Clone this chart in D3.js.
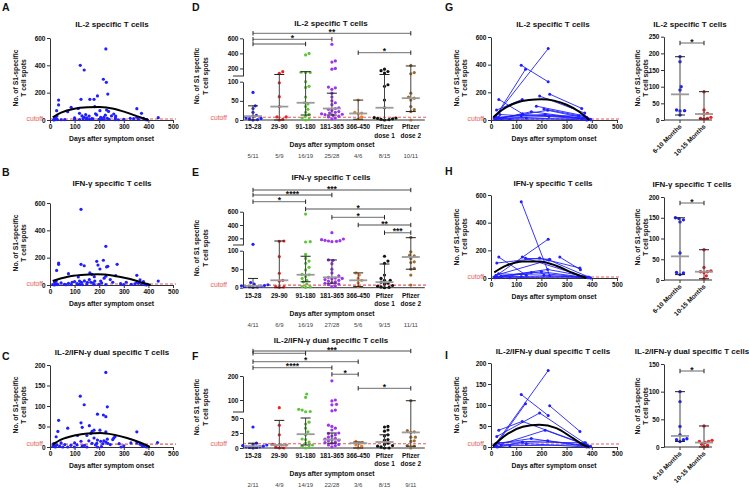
<!DOCTYPE html>
<html><head><meta charset="utf-8">
<script src="https://cdn.jsdelivr.net/npm/d3@7"></script>
<style>body{margin:0;background:#fff}svg{display:block}</style>
</head><body><script>
// ---------------- DATA ----------------
const CUTOFF = 7;
const dayTicks = [0,100,200,300,400,500];
const ticks600 = [0,200,400,600];
const ticks200 = [0,50,100,150,200];

// A/B/C scatter (day, value)
const aDays=[227,123,139,217,229,235,193,179,162,126,35,35,27,86,115,182,203,230,238,353,372,120,259,267,266,72,139,159,190,206,219,233,326,353,380,440,18,15,22,25,30,45,60,100,120,135,148,160,220,240,265,278,300,20,24,28,130,145,170,185,210,250,340,360,390,395,17,100,150,200,225,175];
const aVals=[520,400,366,298,276,190,176,151,151,151,146,110,68,93,85,98,68,73,63,83,49,49,44,29,17,61,20,29,37,20,20,12,12,20,12,17,5,2,8,25,3,2,3,5,3,10,4,4,3,5,3,2,4,12,4,30,30,40,10,45,8,30,10,5,3,1,0,15,15,5,35,8];
const bDays=[126,227,217,190,273,126,139,35,35,27,235,230,195,203,75,162,170,115,180,267,353,227,366,120,128,152,166,182,206,310,353,360,440,19,22,12,32,59,75,86,120,131,179,199,227,287,372,392,25,45,100,140,150,160,210,245,330,380,395,18,28,65,110,175,220,255,300,345,385,90];
const bVals=[554,283,181,173,151,151,141,161,151,107,137,132,146,117,83,88,78,59,61,68,71,64,37,29,20,20,20,29,29,20,20,12,29,20,5,3,3,5,12,3,5,3,3,5,3,10,10,0,30,15,25,30,8,40,15,40,5,25,5,0,8,2,10,15,50,20,3,8,3,20];
const cDays=[227,123,139,233,193,217,227,35,126,131,72,32,353,25,160,179,203,227,171,166,112,259,264,233,219,206,193,179,126,158,171,190,227,235,281,329,353,366,373,437,12,19,22,39,52,72,99,131,150,193,209,289,393,15,28,60,85,140,185,245,300,380,395,18,45,100,150,215,255,110];
const cVals=[182,124,103,98,80,78,74,65,59,48,46,38,37,25,52,41,41,37,38,33,28,22,25,19,15,14,17,22,14,15,9,9,12,9,8,10,10,7,4,11,2,2,0,2,0,0,0,2,0,0,1,0,0,8,5,6,4,4,5,6,3,2,1,3,10,10,28,8,18,5];
const fitADays=[11,45,99,152,203,259,313,366,400], fitAVals=[20,54,83,93,95,83,54,20,0];
const fitBDays=[11,72,126,193,259,326,380,409],   fitBVals=[29,61,73,78,68,44,15,0];
const fitCDays=[11,45,99,152,206,259,313,366,406], fitCVals=[6,18,28,33,34,30,22,11,0];

// D/E/F grouped
const catLabels=[["15-28"],["29-90"],["91-180"],["181-365"],["366-450"],["Pfizer","dose 1"],["Pfizer","dose 2"]];
const dVals=[
 [72,37,30,20,12,10,5,4,3,1,0],
 [157,136,97,61,35,8,8,2,0],
 [400,380,150,148,145,100,88,85,60,45,42,35,28,20,15,10,5,2,0],
 [520,300,285,200,190,86,84,80,70,60,50,45,40,32,30,28,25,22,20,18,16,15,14,12,10,8,5,3],
 [52,20,18,16,8,2],
 [190,170,160,140,92,88,52,32,6,5,4,3,2,1,0],
 [240,145,130,70,60,57,52,35,27,22,0]];
const dMed=[10,35,45,30,17,32,57], dLow=[0,0,13,13,2,0,22], dHigh=[37,120,157,70,52,120,233];
const dFrac=["5/11","5/9","16/19","25/28","4/6","8/15","10/11"];
const dSigFrom=[0,0,0,4], dSigTo=[6,3,2,6], dSigLab=["**","*","","*"];

const eVals=[
 [110,14,10,8,6,5,4,3,3,2,1],
 [160,155,84,39,20,18,3,2,1],
 [565,150,145,90,79,72,66,55,48,36,35,30,25,20,16,10,3,2,1],
 [285,190,180,170,165,160,155,150,75,74,65,50,40,32,28,26,25,24,22,20,18,16,14,12,10,8,5,3],
 [40,34,25,20,13,3],
 [85,72,66,34,25,20,20,15,12,10,6,4,2,1,0],
 [215,97,88,86,79,70,68,52,50,34,7]];
const eMed=[5,20,35,28,20,15,83], eLow=[0,0,16,12,3,0,50], eHigh=[25,160,85,75,40,64,210];
const eFrac=["4/11","6/9","16/19","27/28","5/6","9/15","11/11"];
const eSigFrom=[0,0,0,2,3,4,5], eSigTo=[6,3,2,6,5,6,6], eSigLab=["***","****","*","*","*","**","***"];

const fVals=[
 [35,8,6,5,4,3,2,2,1,1,0],
 [68,38,22,6,5,5,2,0,0],
 [125,111,61,58,52,51,43,40,33,27,22,15,14,10,8,5,3,1,0],
 [180,100,96,82,80,58,55,38,36,33,30,25,24,22,20,18,16,15,14,13,12,10,9,8,6,5,4,2],
 [11,9,8,5,3,0],
 [36,35,30,28,22,20,14,13,8,6,4,3,2,0,0],
 [97,29,27,26,18,18,12,11,4,3,0]];
const fMed=[3,5,23,14,8,10,26], fLow=[0,0,5,8,0,0,3], fHigh=[8,46,50,25,10,22,97];
const fFrac=["2/11","4/9","14/19","22/28","3/6","8/15","9/11"];
const fSigFrom=[0,0,0,0,3,4], fSigTo=[6,2,4,3,4,6], fSigLab=["***","","*","****","*","*"];

// G/H/I longitudinal [day,value] per patient
const gTraj=[[[13,19],[227,516]],[[20,30],[137,367]],[[120,396],[227,276]],[[31,149],[125,45]],[[22,72],[124,149]],[[233,187],[360,84]],[[193,173],[372,50]],[[180,100],[370,30]],[[210,80],[380,20]],[[15,8],[225,70],[385,10]],[[18,5],[160,60],[390,5]],[[25,15],[125,40],[370,15]],[[30,20],[215,40],[395,2]],[[40,10],[140,15],[380,0]],[[16,3],[75,5],[360,8]],[[20,12],[230,25],[395,5]],[[35,40],[120,30],[350,30]]];
const hTraj=[[[120,552],[233,17]],[[13,7],[227,281]],[[31,151],[140,20]],[[23,108],[193,144],[353,72]],[[124,151],[380,5]],[[137,142],[233,135]],[[273,151],[355,60]],[[20,20],[230,130],[390,5]],[[15,5],[225,62],[385,8]],[[18,10],[160,40],[380,3]],[[30,30],[210,20],[395,0]],[[25,3],[75,2],[370,10]],[[40,12],[120,10],[360,5]],[[16,2],[200,45],[385,2]]];
const iTraj=[[[13,3],[227,182]],[[120,125],[227,75]],[[20,5],[137,103]],[[233,98],[353,37]],[[23,25],[193,81],[370,10]],[[31,40],[124,61],[380,5]],[[15,2],[215,40],[385,3]],[[18,8],[160,20],[390,0]],[[25,0],[125,12],[375,10]],[[30,10],[225,15],[395,2]],[[16,1],[75,3],[360,5]],[[40,5],[140,8],[380,0]]];
const fitGDays=[9,50,100,150,200,250,300,350,390], fitGVals=[20,80,125,145,150,140,110,60,0];
const fitHDays=[13,60,126,192,259,325,378], fitHVals=[41,89,120,120,89,36,0];
const fitIDays=[7,60,126,192,259,325,378,390], fitIVals=[2,29,48,53,45,21,2,0];

// right small panels
const monthCats=["6-10 Months","10-15 Months"];
const gR=[[190,175,100,90,30,28,27,15],[85,30,20,18,8,5,5,3]], gRMed=[77,18], gRLow=[15,3], gRHigh=[190,85];
const hR=[[150,148,145,140,65,18,17,13],[73,30,22,20,20,18,10,3]], hRMed=[57,20], hRLow=[13,3], hRHigh=[150,73];
const iR=[[100,82,37,22,15,13,13,10],[38,12,10,10,8,5,3,0]], iRMed=[20,8], iRLow=[10,0], iRHigh=[100,38];

// ---------------- DRAWING ----------------
const FONT="'Liberation Sans', Arial, Helvetica, sans-serif";
const BLUE="#1f1fff", RED="#ee2222", CUTC="#e35d5d";
const groupColors=[BLUE,RED,"#5fc43a","#9b34ee","#f07d22","#111111","#9c6b30"];
const svg=d3.select("body").append("svg").attr("width",749).attr("height",489).style("font-family",FONT);

function T(x,y,s,o={}){return svg.append("text").attr("x",x).attr("y",y).attr("text-anchor",o.a||"middle")
  .attr("font-size",o.s||6.8).attr("font-weight",o.w||"bold").attr("fill",o.f||"#111").text(s);}
function VT(x,y,s){return svg.append("text").attr("transform",`translate(${x},${y}) rotate(-90)`).attr("text-anchor","middle")
  .attr("dominant-baseline","central").attr("font-size",6.8).attr("font-weight","bold").attr("fill","#111").text(s);}
function styleAxis(g){g.attr("font-family",FONT);g.select(".domain").attr("stroke","#333").attr("stroke-width",1);
  g.selectAll(".tick line").attr("stroke","#333");g.selectAll(".tick text").attr("font-size",6.5).attr("font-weight","bold").attr("fill","#111");return g;}
function cutoff(x1,x2,y,lx){svg.append("line").attr("x1",x1).attr("x2",x2).attr("y1",y).attr("y2",y).attr("stroke",CUTC)
  .attr("stroke-width",1.1).attr("stroke-dasharray","3,2");T(lx,y+2.3,"cutoff",{a:"end",w:"normal",f:CUTC});}
function letter(x,y,s){T(x,y,s,{a:"start",s:10.5});}
function swarm(vals,yf,cx){const D=3.5,st=1.15;const pts=vals.map(v=>({v,y:yf(v)})).sort((a,b)=>b.y-a.y);const placed=[];
  pts.forEach(p=>{for(let k=0;k<60;k++){const off=(k%2?1:-1)*Math.ceil(k/2)*st;
    if(!placed.some(q=>(q.dx-off)**2+(q.y-p.y)**2<D*D)){p.dx=off;break;}}placed.push(p);});
  return pts.map(p=>({x:cx+p.dx,y:p.y}));}
function errBar(cx,yf,med,lo,hi,mw){
  svg.append("line").attr("x1",cx).attr("x2",cx).attr("y1",yf(lo)).attr("y2",yf(hi)).attr("stroke","#444").attr("stroke-width",1);
  [lo,hi].forEach(v=>svg.append("line").attr("x1",cx-5).attr("x2",cx+5).attr("y1",yf(v)).attr("y2",yf(v)).attr("stroke","#222").attr("stroke-width",1));
  svg.append("line").attr("x1",cx-mw).attr("x2",cx+mw).attr("y1",yf(med)).attr("y2",yf(med)).attr("stroke","#9a9a9a").attr("stroke-width",1.8);}
function sigBar(x1,x2,y,lab){
  svg.append("line").attr("x1",x1).attr("x2",x2).attr("y1",y).attr("y2",y).attr("stroke","#8a8a8a").attr("stroke-width",1.3);
  [x1,x2].forEach(x=>svg.append("line").attr("x1",x).attr("x2",x).attr("y1",y-2.2).attr("y2",y+2.2).attr("stroke","#222").attr("stroke-width",1));
  if(lab)T((x1+x2)/2,y+1.6,lab,{s:8.5});}

function timePanel(o){
  const x=d3.scaleLinear().domain([0,500]).range([o.x0,o.x1]);
  const y=d3.scaleLinear().domain([0,o.yMax]).range([o.yb,o.yt]);
  cutoff(x(0),x(500)+3,y(CUTOFF),x(0)-7);
  styleAxis(svg.append("g").attr("transform",`translate(${x(0)},0)`).call(d3.axisLeft(y).tickValues(o.yTicks).tickSize(3).tickSizeOuter(0).tickPadding(1.5)));
  styleAxis(svg.append("g").attr("transform",`translate(0,${y(0)})`).call(d3.axisBottom(x).tickValues(dayTicks).tickSize(3).tickSizeOuter(0).tickPadding(1.5)));
  T((o.x0+o.x1)/2,o.yb+20.5,"Days after symptom onset");
  T(o.tx,o.ty,o.title,{s:8});
  VT(o.x0-35,o.ylc,"No. of S1-specific");VT(o.x0-26.5,o.ylc,"T cell spots");
  letter(o.lx,o.ly,o.letter);
  if(o.traj){const ln=d3.line().x(d=>x(d[0])).y(d=>y(d[1]));
    o.traj.forEach(t=>{svg.append("path").attr("d",ln(t)).attr("fill","none").attr("stroke",BLUE).attr("stroke-width",0.9);
      t.forEach(d=>svg.append("circle").attr("cx",x(d[0])).attr("cy",y(d[1])).attr("r",1.5).attr("fill",BLUE));});}
  else{svg.append("g").selectAll("circle").data(d3.zip(o.days,o.vals)).join("circle").attr("cx",d=>x(d[0])).attr("cy",d=>y(d[1])).attr("r",1.6).attr("fill",BLUE);}
  svg.append("path").attr("d",d3.line().x(d=>x(d[0])).y(d=>y(d[1])).curve(d3.curveMonotoneX)(d3.zip(o.fitDays,o.fitVals)))
    .attr("fill","none").attr("stroke","#000").attr("stroke-width",2);
}

function catPanel(o){
  const cx=i=>253+i*26.3, ax=243;
  const yLo=d3.scaleLinear().domain([0,o.brk]).range([o.y0,o.yBrkLo]);
  const yHi=d3.scaleLinear().domain([o.brk,o.max]).range([o.yBrkHi,o.yTop]);
  const yv=v=>v<=o.brk?yLo(v):yHi(v);
  cutoff(ax,cx(6)+16,yLo(CUTOFF),ax-16);
  styleAxis(svg.append("g").attr("transform",`translate(${ax},0)`).call(d3.axisLeft(yLo).tickValues(o.loTicks).tickSize(3).tickSizeOuter(0).tickPadding(1.5)));
  styleAxis(svg.append("g").attr("transform",`translate(${ax},0)`).call(d3.axisLeft(yHi).tickValues(o.hiTicks).tickSize(3).tickSizeOuter(0).tickPadding(1.5)));
  svg.append("line").attr("x1",ax-10).attr("x2",ax).attr("y1",o.yBrkHi).attr("y2",o.yBrkHi).attr("stroke","#333");
  svg.append("line").attr("x1",ax).attr("x2",cx(6)+14).attr("y1",o.y0).attr("y2",o.y0).attr("stroke","#333");
  o.vals.forEach((g,i)=>{
    swarm(g,yv,cx(i)).forEach(p=>svg.append("circle").attr("cx",p.x).attr("cy",p.y).attr("r",1.6).attr("fill",groupColors[i]));
    errBar(cx(i),yv,o.med[i],o.low[i],o.high[i],9);
    catLabels[i].forEach((l,k)=>T(cx(i),o.catY+k*8.2,l,{s:6.5}));
    T(cx(i),o.fracY,o.frac[i],{s:6,w:"normal",f:"#444"});
  });
  o.sigFrom.forEach((a,k)=>sigBar(cx(a),cx(o.sigTo[k]),o.sigY[k],o.sigLab[k]));
  T(332,o.catY+18,"Days after symptom onset");
  T(331,o.ty,o.title,{s:8});
  VT(196,o.ylc,"No. of S1 specific");VT(205,o.ylc,"T cell spots");
  letter(192,o.ly,o.letter);
}

function smallPanel(o){
  const ax=664, cxs=[680,704];
  const y=d3.scaleLinear().domain([0,o.max]).range([o.yb,o.yt]);
  styleAxis(svg.append("g").attr("transform",`translate(${ax},0)`).call(d3.axisLeft(y).tickValues(o.ticks).tickSize(3).tickSizeOuter(0).tickPadding(1.5)));
  svg.append("line").attr("x1",ax).attr("x2",712).attr("y1",o.yb).attr("y2",o.yb).attr("stroke","#333");
  cxs.forEach((c,i)=>{
    svg.append("line").attr("x1",c).attr("x2",c).attr("y1",o.yb).attr("y2",o.yb+3).attr("stroke","#333");
    swarm(o.vals[i],y,c).forEach(p=>svg.append("circle").attr("cx",p.x).attr("cy",p.y).attr("r",1.7).attr("fill",i?RED:BLUE));
    errBar(c,y,o.med[i],o.low[i],o.high[i],9);
    svg.append("text").attr("transform",`translate(${c+2},${o.yb+7}) rotate(-45)`).attr("text-anchor","end")
      .attr("font-size",6.5).attr("font-weight","bold").attr("fill","#111").text(monthCats[i]);
  });
  sigBar(cxs[0],cxs[1],o.sigY,"*");
  T(o.tx,o.ty,o.title,{s:8});
  VT(637,o.ylc,"No. of S1-specific");VT(645,o.ylc,"T cell spots");
}

// A B C
timePanel({letter:"A",lx:2,ly:10.5,x0:50,x1:173,yt:38,yb:120,yMax:600,yTicks:ticks600,tx:112,ty:27,ylc:78,title:"IL-2 specific T cells",days:aDays,vals:aVals,fitDays:fitADays,fitVals:fitAVals});
timePanel({letter:"B",lx:2,ly:176,x0:50,x1:173,yt:203,yb:285,yMax:600,yTicks:ticks600,tx:112,ty:186,ylc:243,title:"IFN-γ specific T cells",days:bDays,vals:bVals,fitDays:fitBDays,fitVals:fitBVals});
timePanel({letter:"C",lx:2,ly:359.5,x0:50,x1:173,yt:365,yb:447,yMax:200,yTicks:ticks200,tx:112,ty:355,ylc:405,title:"IL-2/IFN-γ dual specific T cells",days:cDays,vals:cVals,fitDays:fitCDays,fitVals:fitCVals});
// D E F
catPanel({letter:"D",ly:10.5,title:"IL-2 specific T cells",ty:26,yTop:38.3,yBrkHi:76,yBrkLo:81.7,y0:120,brk:100,max:600,loTicks:[0,50,100],hiTicks:[200,400,600],
  vals:dVals,med:dMed,low:dLow,high:dHigh,frac:dFrac,sigFrom:dSigFrom,sigTo:dSigTo,sigLab:dSigLab,sigY:[33.3,39.3,44,52.7],catY:129.3,fracY:158.3,ylc:76});
catPanel({letter:"E",ly:176,title:"IFN-γ specific T cells",ty:180,yTop:211.7,yBrkHi:245,yBrkLo:250.7,y0:287.7,brk:100,max:600,loTicks:[0,50,100],hiTicks:[200,400,600],
  vals:eVals,med:eMed,low:eLow,high:eHigh,frac:eFrac,sigFrom:eSigFrom,sigTo:eSigTo,sigLab:eSigLab,sigY:[190,195,201.7,209,217.3,225,232.7],catY:297.5,fracY:326.5,ylc:248});
catPanel({letter:"F",ly:359.5,title:"IL-2/IFN-γ dual specific T cells",ty:343,yTop:376,yBrkHi:412,yBrkLo:418,y0:448,brk:50,max:200,loTicks:[0,25,50],hiTicks:[100,200],
  vals:fVals,med:fMed,low:fLow,high:fHigh,frac:fFrac,sigFrom:fSigFrom,sigTo:fSigTo,sigLab:fSigLab,sigY:[351,353.3,361.7,367.7,374.3,388.3],catY:457.5,fracY:486.5,ylc:407});
// G H I
timePanel({letter:"G",lx:445,ly:10.5,x0:491,x1:617,yt:37,yb:120,yMax:600,yTicks:ticks600,tx:553,ty:26.5,ylc:78,title:"IL-2 specific T cells",traj:gTraj,fitDays:fitGDays,fitVals:fitGVals});
timePanel({letter:"H",lx:445,ly:175,x0:491,x1:617,yt:195,yb:278,yMax:600,yTicks:ticks600,tx:553,ty:185.5,ylc:237,title:"IFN-γ specific T cells",traj:hTraj,fitDays:fitHDays,fitVals:fitHVals});
timePanel({letter:"I",lx:445,ly:359,x0:491,x1:617,yt:363,yb:447,yMax:200,yTicks:ticks200,tx:553,ty:353.5,ylc:405,title:"IL-2/IFN-γ dual specific T cells",traj:iTraj,fitDays:fitIDays,fitVals:fitIVals});
smallPanel({yt:36.7,yb:120,max:250,ticks:[0,50,100,150,200,250],vals:gR,med:gRMed,low:gRLow,high:gRHigh,sigY:43,tx:690,ty:27,ylc:78,title:"IL-2 specific T cells"});
smallPanel({yt:197,yb:280,max:200,ticks:[0,50,100,150,200],vals:hR,med:hRMed,low:hRLow,high:hRHigh,sigY:203,tx:692,ty:187,ylc:237,title:"IFN-γ specific T cells"});
smallPanel({yt:364,yb:447,max:150,ticks:[0,50,100,150],vals:iR,med:iRMed,low:iRLow,high:iRHigh,sigY:371,tx:692,ty:354,ylc:406,title:"IL-2/IFN-γ dual specific T cells"});
</script></body></html>
